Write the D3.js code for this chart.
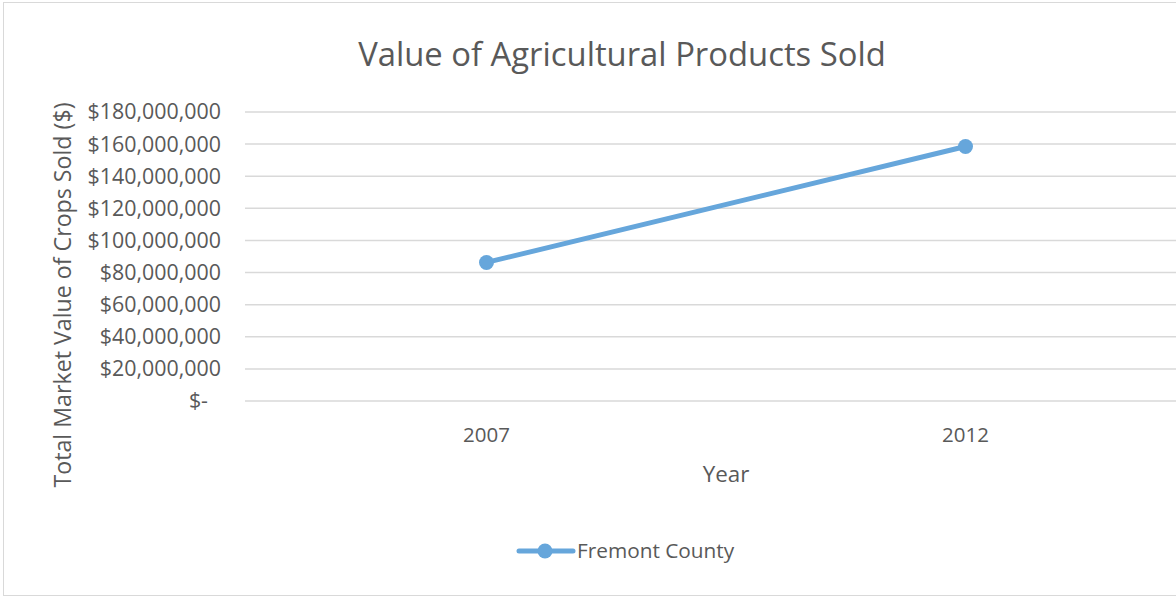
<!DOCTYPE html>
<html>
<head>
<meta charset="utf-8">
<script src="https://cdn.jsdelivr.net/npm/d3@7"></script>
<style>
    body { margin: 0; background: #fff; }
    text { font-family: "Open Sans", sans-serif; fill: #595959; }
</style>
</head>
<body>
<div id="chart"></div>
<script>
// data
const years = ["2007", "2012"];
const cropValues = [86300000, 158500000];
const yTicks = [0, 20000000, 40000000, 60000000, 80000000, 100000000, 120000000, 140000000, 160000000, 180000000];
const seriesName = "Fremont County";

const lineColor = "#66A6DB";

let width = 1176, height = 597;
let margin = { top: 112, right: -29, bottom: 196, left: 247 };

let svg = d3.select("#chart")
    .append("svg")
    .attr("width", width)
    .attr("height", height);

// outer chart border
svg.append("rect")
    .attr("x", 3.5)
    .attr("y", 2.5)
    .attr("width", 1240)
    .attr("height", 593)
    .attr("fill", "none")
    .attr("stroke", "#d9d9d9")
    .attr("stroke-width", 1);

let xScale = d3.scaleBand()
    .domain(years)
    .range([margin.left, width - margin.right]);

let yScale = d3.scaleLinear()
    .domain([0, 180000000])
    .range([height - margin.bottom, margin.top]);

// gridlines
svg.append("g")
    .selectAll("line")
    .data(yTicks)
    .enter()
    .append("line")
    .attr("x1", margin.left - 2)
    .attr("x2", width)
    .attr("y1", d => yScale(d))
    .attr("y2", d => yScale(d))
    .attr("stroke", "#d9d9d9")
    .attr("stroke-width", 1.5);

// y tick labels, accounting format
const fmt = d3.format(",");
svg.append("g")
    .selectAll("text")
    .data(yTicks)
    .enter()
    .append("text")
    .attr("x", d => d === 0 ? 208 : 221)
    .attr("y", d => yScale(d))
    .attr("dy", "0.35em")
    .attr("text-anchor", "end")
    .style("font-size", "21.4px")
    .text(d => d === 0 ? "$-" : "$" + fmt(d));

// x tick labels
svg.append("g")
    .selectAll("text")
    .data(years)
    .enter()
    .append("text")
    .attr("x", d => xScale(d) + xScale.bandwidth() / 2)
    .attr("y", 435)
    .attr("dy", "0.35em")
    .attr("text-anchor", "middle")
    .style("font-size", "20.5px")
    .text(d => d);

// axis titles
svg.append("text")
    .attr("x", (margin.left + width - margin.right) / 2)
    .attr("y", 474)
    .attr("dy", "0.35em")
    .attr("text-anchor", "middle")
    .style("font-size", "22.4px")
    .text("Year");

svg.append("text")
    .attr("transform", "translate(63,295) rotate(-90)")
    .attr("dy", "0.35em")
    .attr("text-anchor", "middle")
    .style("font-size", "23.2px")
    .text("Total Market Value of Crops Sold ($)");

// title
svg.append("text")
    .attr("x", 622)
    .attr("y", 55)
    .attr("dy", "0.35em")
    .attr("text-anchor", "middle")
    .style("font-size", "32.8px")
    .text("Value of Agricultural Products Sold");

// series
const points = years.map((y, i) => ({ year: y, value: cropValues[i] }));
const line = d3.line()
    .x(d => xScale(d.year) + xScale.bandwidth() / 2)
    .y(d => yScale(d.value));

svg.append("path")
    .datum(points)
    .attr("d", line)
    .attr("fill", "none")
    .attr("stroke", lineColor)
    .attr("stroke-width", 5)
    .attr("stroke-linecap", "round");

svg.selectAll("circle.pt")
    .data(points)
    .enter()
    .append("circle")
    .attr("class", "pt")
    .attr("cx", d => xScale(d.year) + xScale.bandwidth() / 2)
    .attr("cy", d => yScale(d.value))
    .attr("r", 7.5)
    .attr("fill", lineColor);

// legend
let legend = svg.append("g").attr("transform", "translate(517,551)");
legend.append("line")
    .attr("x1", 2).attr("x2", 56)
    .attr("stroke", lineColor)
    .attr("stroke-width", 5)
    .attr("stroke-linecap", "round");
legend.append("circle")
    .attr("cx", 28)
    .attr("r", 7.5)
    .attr("fill", lineColor);
legend.append("text")
    .attr("x", 60)
    .attr("dy", "0.35em")
    .style("font-size", "20.8px")
    .text(seriesName);
</script>
</body>
</html>
